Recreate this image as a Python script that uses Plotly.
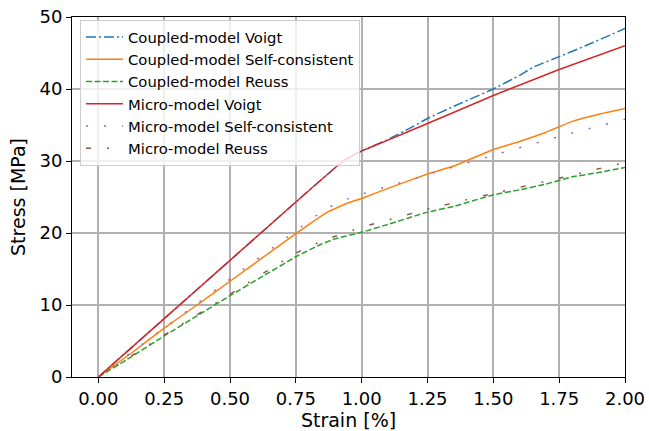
import plotly.graph_objects as go

# Coupled-model Voigt
cv_strain = [0, 0.25, 0.5, 0.75, 0.93, 1.0, 1.1, 1.18, 1.25, 1.35, 1.5, 1.6, 1.65, 1.75, 1.85, 2.0]
cv_stress = [0, 8.1, 16.2, 24.3, 30.0, 31.4, 33.0, 34.5, 35.9, 37.6, 40.0, 41.9, 43.0, 44.5, 46.0, 48.4]

# Coupled-model Self-consistent
cs_strain = [0, 0.125, 0.25, 0.375, 0.5, 0.625, 0.75, 0.8, 0.875, 0.95, 1.0, 1.1, 1.25, 1.35, 1.5, 1.6, 1.7, 1.8, 1.9, 2.0]
cs_stress = [0, 3.3, 6.8, 10.0, 13.3, 16.6, 19.9, 21.2, 23.0, 24.2, 24.8, 26.2, 28.2, 29.3, 31.6, 32.7, 34.0, 35.5, 36.5, 37.3]

# Coupled-model Reuss
cr_strain = [0, 0.125, 0.25, 0.375, 0.5, 0.625, 0.75, 0.85, 0.9, 1.0, 1.1, 1.25, 1.35, 1.5, 1.6, 1.7, 1.8, 1.9, 2.0]
cr_stress = [0, 2.8, 5.7, 8.5, 11.3, 14.0, 16.7, 18.5, 19.2, 20.1, 21.2, 22.9, 23.7, 25.3, 26.0, 26.8, 27.8, 28.4, 29.1]

# Micro-model Voigt
mv_strain = [0, 0.25, 0.5, 0.75, 0.93, 1.0, 1.1, 1.25, 1.5, 1.75, 2.0]
mv_stress = [0, 8.1, 16.2, 24.3, 30.0, 31.4, 32.9, 35.2, 39.1, 42.7, 46.0]

# Micro-model Self-consistent
ms_strain = [0, 0.25, 0.5, 0.75, 0.85, 0.9, 0.95, 1.0, 1.1, 1.25, 1.5, 1.75, 2.0]
ms_stress = [0, 6.8, 13.6, 20.3, 23.0, 24.0, 24.8, 25.4, 26.5, 28.1, 30.8, 33.4, 35.8]

# Micro-model Reuss
mr_strain = [0, 0.25, 0.5, 0.75, 0.85, 1.0, 1.25, 1.5, 1.75, 2.0]
mr_stress = [0, 5.8, 11.5, 17.2, 18.9, 20.8, 23.3, 25.5, 27.6, 29.8]

x_ticks = [0, 0.25, 0.5, 0.75, 1.0, 1.25, 1.5, 1.75, 2.0]
x_ticklabels = ["0.00", "0.25", "0.50", "0.75", "1.00", "1.25", "1.50", "1.75", "2.00"]
y_ticks = [0, 10, 20, 30, 40, 50]

series = [
    ("Coupled-model Voigt", cv_strain, cv_stress, "#1f77b4", "10px,3px,2px,3px"),
    ("Coupled-model Self-consistent", cs_strain, cs_stress, "#ff7f0e", "solid"),
    ("Coupled-model Reuss", cr_strain, cr_stress, "#2ca02c", "6px,2.5px"),
    ("Micro-model Voigt", mv_strain, mv_stress, "#d62728", "solid"),
    ("Micro-model Self-consistent", ms_strain, ms_stress, "#9467bd", "2px,16px"),
    ("Micro-model Reuss", mr_strain, mr_stress, "#8c564b", "5px,16px,2px,16px"),
]

fig = go.Figure()
for name, xs, ys, color, dash in series:
    fig.add_trace(go.Scatter(x=xs, y=ys, mode="lines", name=name,
                             line=dict(color=color, width=1.5, dash=dash, shape="spline", smoothing=0.3)))

font_family = "DejaVu Sans"
axis_common = dict(
    showline=True, linecolor="black", linewidth=1, mirror=True,
    ticks="outside", ticklen=5, tickwidth=1, tickcolor="black",
    showgrid=True, gridcolor="#b0b0b0", gridwidth=1.5,
    zeroline=False, automargin=False, ticklabeloverflow="allow",
    tickfont=dict(family=font_family, size=18, color="black"),
)

fig.update_layout(
    width=649, height=431,
    margin=dict(l=72, r=24, t=17, b=54),
    paper_bgcolor="white", plot_bgcolor="white",
    font=dict(family=font_family, color="black"),
    xaxis=dict(range=[-0.1, 2.0], tickvals=x_ticks, ticktext=x_ticklabels,
               title=dict(text="Strain [%]", font=dict(size=19, family=font_family), standoff=5),
               **axis_common),
    yaxis=dict(range=[0, 50], tickvals=y_ticks,
               title=dict(text="Stress [MPa]", font=dict(size=19, family=font_family), standoff=8),
               **axis_common),
    legend=dict(x=0.0145, y=0.992, xanchor="left", yanchor="top",
                bgcolor="rgba(255,255,255,0.8)", bordercolor="#cccccc", borderwidth=1,
                font=dict(family=font_family, size=14.8, color="black"),
                tracegroupgap=0, itemwidth=37),
    showlegend=True,
)

fig.write_html("out.html",
               config={"displayModeBar": False},
               post_script="document.body.style.margin='0';document.body.style.overflow='hidden';")
